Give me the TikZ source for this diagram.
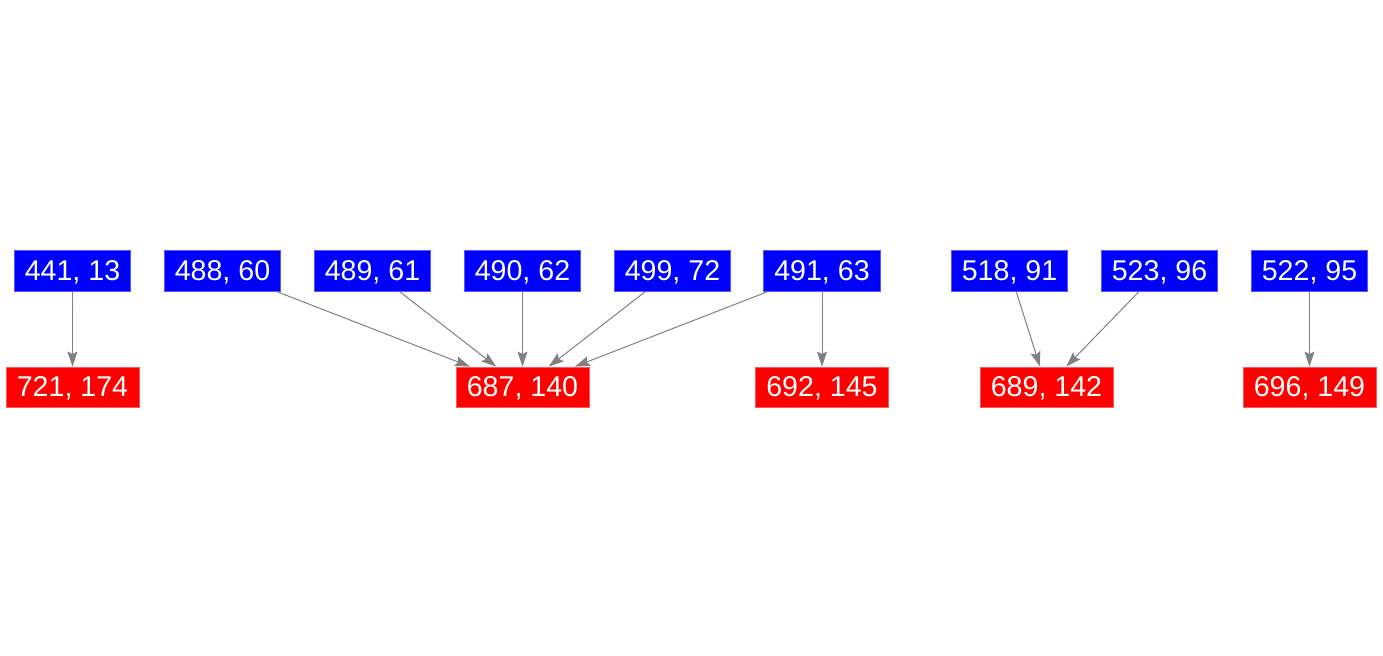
\documentclass[tikz,border=0pt]{standalone}
\usepackage{fontspec}
\setmainfont{Liberation Sans}
\usetikzlibrary{arrows.meta}

\tikzset{
    src/.style={fill=blue,draw=blue!65!white,line width=0.4pt,text=white,
        font=\fontsize{14.3}{16}\selectfont,inner xsep=5.2pt,inner ysep=0pt,
        minimum height=20.5pt,text height=10pt,text depth=0pt},
    dst/.style={src,fill=red,draw=red!65!white,inner xsep=5.4pt,minimum height=20pt},
    link/.style={draw=gray,line width=0.5pt,-{Stealth[length=7.5pt,width=5pt,inset=1.2pt]}}
}

\begin{document}
\begin{tikzpicture}[x=0.5pt,y=-0.5pt]
        \useasboundingbox (0,0) rectangle (1383,656);
        % upper row
        \node[src] (b441) at (72.5,270.5) {441, 13};
        \node[src] (b488) at (222.5,270.5) {488, 60};
        \node[src] (b489) at (372.5,270.5) {489, 61};
        \node[src] (b490) at (522.5,270.5) {490, 62};
        \node[src] (b499) at (672.5,270.5) {499, 72};
        \node[src] (b491) at (822,270.5) {491, 63};
        \node[src] (b518) at (1009.5,270.5) {518, 91};
        \node[src] (b523) at (1159.5,270.5) {523, 96};
        \node[src] (b522) at (1309.5,270.5) {522, 95};
        % lower row
        \node[dst] (r721) at (72.5,387) {721, 174};
        \node[dst] (r687) at (522.5,387) {687, 140};
        \node[dst] (r692) at (822,387) {692, 145};
        \node[dst] (r689) at (1046.5,387) {689, 142};
        \node[dst] (r696) at (1309.5,387) {696, 149};
        % edges
        \draw[link] (b441) -- (r721);
        \draw[link] (b488) -- (r687);
        \draw[link] (b489) -- (r687);
        \draw[link] (b490) -- (r687);
        \draw[link] (b499) -- (r687);
        \draw[link] (b491) -- (r687);
        \draw[link] (b491) -- (r692);
        \draw[link] (b518) -- (r689);
        \draw[link] (b523) -- (r689);
        \draw[link] (b522) -- (r696);
    \end{tikzpicture}
\end{document}
